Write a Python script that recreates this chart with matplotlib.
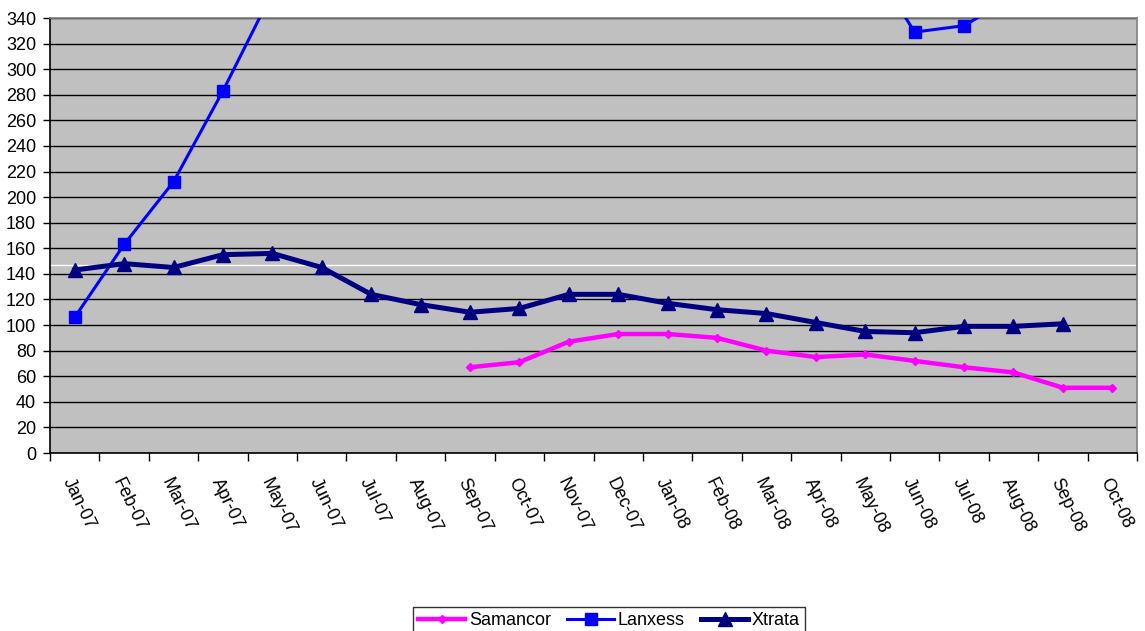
import numpy as np
import matplotlib.pyplot as plt
from matplotlib.ticker import FixedLocator, NullFormatter

plt.rcParams["font.family"] = ["Liberation Sans", "DejaVu Sans"]

months = ["Jan-07", "Feb-07", "Mar-07", "Apr-07", "May-07", "Jun-07",
          "Jul-07", "Aug-07", "Sep-07", "Oct-07", "Nov-07", "Dec-07",
          "Jan-08", "Feb-08", "Mar-08", "Apr-08", "May-08", "Jun-08",
          "Jul-08", "Aug-08", "Sep-08", "Oct-08"]

nan = np.nan
samancor = [nan, nan, nan, nan, nan, nan, nan, nan, 67, 71, 87, 93,
            93, 90, 80, 75, 77, 72, 67, 63, 51, 51]
# values above 340 are outside the visible range (estimated)
lanxess = [106, 163, 212, 283, 360, 420, 470, 500, 520, 540, 560, 560,
           540, 520, 480, 430, 390, 329, 334, 357, 390, nan]
xtrata = [143, 148, 145, 155, 156, 145, 124, 116, 110, 113, 124, 124,
          117, 112, 109, 102, 95, 94, 99, 99, 101, nan]

x = np.arange(len(months))

fig = plt.figure(figsize=(11.45, 6.31), dpi=100)
ax = fig.add_axes([50 / 1145, 1 - 453 / 631, 1087 / 1145, 435 / 631])
ax.set_facecolor("#C0C0C0")

ax.set_xlim(-0.5, len(months) - 0.5)
ax.set_ylim(0, 340)
ax.set_yticks(np.arange(0, 341, 20))
ax.yaxis.grid(True, color="black", linewidth=1.0, zorder=1)
ax.set_axisbelow(True)

ax.axhline(147, color="white", linewidth=1.0, zorder=1.5)

ax.plot(x, samancor, color="#FF00FF", linewidth=3.2, marker="D",
        markersize=4, label="Samancor", zorder=3)
ax.plot(x, lanxess, color="#0000FF", linewidth=2.2, marker="s",
        markersize=8, label="Lanxess", zorder=3)
ax.plot(x, xtrata, color="#000080", linewidth=3.6, marker="^",
        markersize=9.5, label="Xtrata", zorder=3)

ax.xaxis.set_major_locator(FixedLocator(np.arange(-0.5, len(months), 1.0)))
ax.xaxis.set_major_formatter(NullFormatter())
ax.xaxis.set_minor_locator(FixedLocator(x))
ax.set_xticklabels(months, minor=True, rotation=-64, ha="left", va="top",
                   rotation_mode="anchor", fontsize=13)
ax.tick_params(axis="x", which="major", length=6, width=1, color="black")
ax.tick_params(axis="x", which="minor", length=0, pad=16)
ax.tick_params(axis="y", length=5, width=1, color="black", labelsize=13,
               pad=5)

for side in ["top", "right"]:
    ax.spines[side].set_color("#808080")
    ax.spines[side].set_linewidth(1.2)
for side in ["left", "bottom"]:
    ax.spines[side].set_color("black")
    ax.spines[side].set_linewidth(1.2)

leg = fig.legend(loc="upper center", bbox_to_anchor=(609 / 1145, 1 - 598 / 631),
                 ncol=3, fontsize=13, frameon=True, fancybox=False,
                 edgecolor="black", handlelength=2.6, handletextpad=0.2,
                 columnspacing=0.9, borderpad=0.3)
leg.get_frame().set_linewidth(1.0)

fig.savefig("out.png", dpi=100, facecolor="white")
